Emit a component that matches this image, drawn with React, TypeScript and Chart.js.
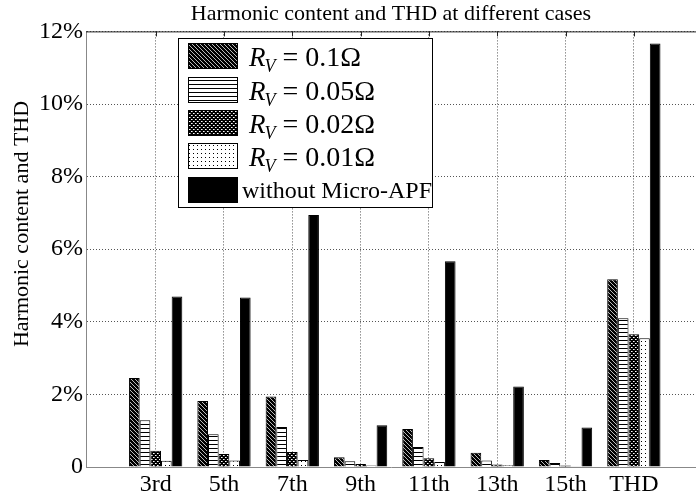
import React, { useEffect, useRef } from 'react';
import { Chart, registerables } from 'chart.js';
Chart.register(...registerables);

const categories = ['3rd', '5th', '7th', '9th', '11th', '13th', '15th', 'THD'];
const rv01 = [2.45, 1.82, 1.94, 0.27, 1.05, 0.39, 0.19, 5.17];
const rv005 = [1.29, 0.9, 1.1, 0.16, 0.55, 0.18, 0.11, 4.1];
const rv002 = [0.45, 0.36, 0.41, 0.08, 0.24, 0.07, 0.04, 3.66];
const rv001 = [0.17, 0.18, 0.19, 0.04, 0.14, 0.05, 0.02, 3.55];
const withoutApf = [4.7, 4.67, 6.94, 1.15, 5.67, 2.22, 1.09, 11.67];
const rvValues = ['0.1Ω', '0.05Ω', '0.02Ω', '0.01Ω'];
const lastLabel = 'without Micro-APF';
const yTicks = [0, 2, 4, 6, 8, 10, 12];
const titleText = 'Harmonic content and THD at different cases';
const yTitle = 'Harmonic content and THD';

const SERIF = '"Liberation Serif", "Times New Roman", serif';

function makePattern(kind: string): CanvasPattern | string {
  if (kind === 'solid') return '#000';
  const c = document.createElement('canvas');
  const n = 4;
  c.width = n;
  c.height = n;
  const g = c.getContext('2d')!;
  const px = (x: number, y: number, col: string) => {
    g.fillStyle = col;
    g.fillRect(x, y, 1, 1);
  };
  if (kind === 'diag') {
    g.fillStyle = '#000';
    g.fillRect(0, 0, n, n);
    for (let i = 0; i < n; i++) px(i, i, '#bbb');
  } else if (kind === 'horiz') {
    g.fillStyle = '#fff';
    g.fillRect(0, 0, n, n);
    g.fillStyle = '#000';
    g.fillRect(0, 0, n, 1);
  } else if (kind === 'cross') {
    g.fillStyle = '#000';
    g.fillRect(0, 0, n, n);
    px(1, 1, '#fff');
    px(3, 3, '#fff');
    px(2, 1, '#999');
    px(0, 3, '#999');
  } else if (kind === 'dots') {
    g.fillStyle = '#fff';
    g.fillRect(0, 0, n, n);
    px(1, 1, '#000');
  }
  const ctx = document.createElement('canvas').getContext('2d')!;
  return ctx.createPattern(c, 'repeat')!;
}

export default function App() {
  const ref = useRef<HTMLCanvasElement>(null);
  useEffect(() => {
    const canvas = ref.current!;
    const kinds = ['diag', 'horiz', 'cross', 'dots', 'solid'];
    const fills = kinds.map(makePattern);
    const series = [rv01, rv005, rv002, rv001, withoutApf];
    const names = [...rvValues.map((v) => 'R_V = ' + v), lastLabel];

    const overlay = {
      id: 'overlay',
      afterDraw(chart: any) {
        const ctx = chart.ctx as CanvasRenderingContext2D;
        const ca = chart.chartArea;
        const xs = chart.scales.x;
        ctx.save();
        // top border and ticks
        ctx.strokeStyle = '#222';
        ctx.lineWidth = 1;
        ctx.beginPath();
        ctx.moveTo(ca.left, ca.top + 0.5);
        ctx.lineTo(ca.right, ca.top + 0.5);
        categories.forEach((_, i) => {
          const x = Math.round(xs.getPixelForValue(i + 1)) + 0.5;
          ctx.moveTo(x, ca.top);
          ctx.lineTo(x, ca.top + 5);
        });
        ctx.stroke();

        // y title
        ctx.save();
        ctx.translate(22, 224);
        ctx.rotate(-Math.PI / 2);
        ctx.fillStyle = '#000';
        ctx.font = `22px ${SERIF}`;
        ctx.textAlign = 'center';
        ctx.textBaseline = 'middle';
        ctx.fillText(yTitle, 0, 0);
        ctx.restore();

        // legend
        const lx = 178, ly = 38, lw = 254, lh = 169;
        ctx.fillStyle = '#fff';
        ctx.fillRect(lx, ly, lw, lh);
        ctx.strokeStyle = '#000';
        ctx.strokeRect(lx + 0.5, ly + 0.5, lw, lh);
        const rowCenters = [56, 90, 123, 156, 190];
        names.forEach((name, i) => {
          const cy = rowCenters[i];
          ctx.fillStyle = fills[i] as any;
          ctx.fillRect(188, cy - 13, 50, 26);
          ctx.strokeStyle = '#000';
          ctx.strokeRect(188.5, cy - 12.5, 49, 25);
          ctx.fillStyle = '#000';
          ctx.textAlign = 'left';
          ctx.textBaseline = 'alphabetic';
          if (i < 4) {
            let x = 249;
            const base = cy + 10;
            ctx.font = `italic 27px ${SERIF}`;
            ctx.fillText('R', x, base);
            x += ctx.measureText('R').width - 1;
            ctx.font = `italic 18px ${SERIF}`;
            ctx.fillText('V', x, base + 6);
            x += ctx.measureText('V').width + 7;
            ctx.font = `28px ${SERIF}`;
            ctx.fillText('= ' + rvValues[i], x, base);
          } else {
            ctx.font = `24px ${SERIF}`;
            ctx.fillText(name, 242, cy + 8);
          }
        });
        ctx.restore();
      },
    };

    const chart = new Chart(canvas, {
      type: 'bar',
      data: {
        datasets: series.map((vals, k) => ({
          label: names[k],
          data: vals.map((v, i) => ({ x: i + 1, y: v })),
          backgroundColor: fills[k] as any,
          borderColor: '#000',
          borderWidth: 1,
          categoryPercentage: 0.78,
          barPercentage: 1,
        })),
      },
      options: {
        responsive: false,
        animation: false,
        devicePixelRatio: 1,
        layout: { padding: { left: 0, right: 0, top: 0, bottom: 0 } },
        plugins: {
          legend: { display: false },
          tooltip: { enabled: false },
          title: {
            display: true,
            text: titleText,
            fullSize: false,
            color: '#000',
            font: { family: SERIF, size: 22, weight: 'normal' },
            padding: { top: 1, bottom: 4 },
          },
        },
        scales: {
          x: {
            type: 'linear',
            offset: false,
            min: -0.02,
            max: 8.91,
            afterBuildTicks: (scale: any) => {
              scale.ticks = categories.map((_, i) => ({ value: i + 1 }));
            },
            afterFit: (scale: any) => {
              scale.height = 33;
            },
            ticks: {
              autoSkip: false,
              maxRotation: 0,
              padding: 3,
              color: '#000',
              font: { family: SERIF, size: 24 },
              callback: (v: any) => categories[Number(v) - 1] ?? '',
            },
            grid: { color: '#555', drawTicks: false, lineWidth: 1, offset: false },
            border: { color: '#888', width: 1, dash: [1, 2] },
          },
          y: {
            min: 0,
            max: 12,
            afterBuildTicks: (scale: any) => {
              scale.ticks = yTicks.map((v) => ({ value: v }));
            },
            afterFit: (scale: any) => {
              scale.width = 86;
            },
            ticks: {
              padding: 3,
              color: '#000',
              font: { family: SERIF, size: 24 },
              callback: (v: any) => (Number(v) === 0 ? '0' : v + '%'),
            },
            grid: { color: '#555', drawTicks: false, lineWidth: 1 },
            border: { color: '#888', width: 1, dash: [1, 2] },
          },
        },
      },
      plugins: [overlay],
    } as any);
    return () => chart.destroy();
  }, []);
  return (
    <div style={{ position: 'absolute', left: 0, top: 0, width: 696, height: 500, background: '#fff' }}>
      <canvas ref={ref} width={696} height={500} style={{ width: 696, height: 500, display: 'block' }} />
    </div>
  );
}
